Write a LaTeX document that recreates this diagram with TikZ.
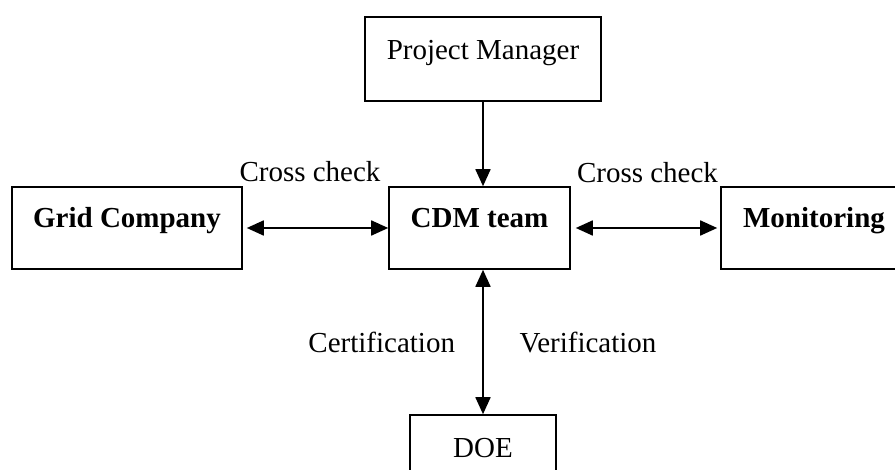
\documentclass[tikz,border=0pt]{standalone}
\usepackage{fontspec}
\setmainfont{Liberation Serif}
\usetikzlibrary{arrows.meta}
\begin{document}
\begin{tikzpicture}[x=1pt,y=-1pt,
  box/.style={draw, line width=1.6pt, rectangle, inner sep=0pt, align=center,
    font=\fontsize{29}{34}\selectfont},
  bx/.style={box, font=\fontsize{29}{34}\selectfont\bfseries},
  lbl/.style={anchor=base, inner sep=0pt, font=\fontsize{29}{34}\selectfont},
  tip/.tip={Triangle[length=17pt,width=15pt]},
  arr/.style={line width=1.8pt, tip-tip},
  arrone/.style={line width=1.8pt, -tip}]
\useasboundingbox (0,0) rectangle (895,470);
\begin{scope}
\clip (0,0) rectangle (895,470);
\node[box, minimum width=236pt, minimum height=84pt, text height=21pt, text depth=19pt] (pm) at (483,59) {Project Manager};
\node[bx, minimum width=230pt, minimum height=82pt, text height=20pt, text depth=21pt] (grid) at (127,228) {Grid Company};
\node[bx, minimum width=181pt, minimum height=82pt, text height=20pt, text depth=21pt] (cdm) at (479.5,228) {CDM team};
\node[bx, minimum width=186pt, minimum height=82pt, text height=20pt, text depth=21pt] (mon) at (814,228) {Monitoring};
\node[box, minimum width=146pt, minimum height=84pt, text height=20pt, text depth=20pt] (doe) at (483,457) {DOE};
\end{scope}
\node[lbl] (cc1) at (310,182) {Cross check};
\node[lbl] (cc2) at (647.5,183) {Cross check};
\node[lbl] (cert) at (381.7,353) {Certification};
\node[lbl] (ver) at (588,353) {Verification};
\draw[arrone] (pm.south) -- (pm.south |- cdm.north);
\draw[arr, shorten <=4pt] (grid.east) -- (cdm.west);
\draw[arr, shorten <=5pt, shorten >=3pt] (cdm.east) -- (mon.west);
\draw[arr] (doe.north |- cdm.south) -- (doe.north);
\end{tikzpicture}
\end{document}
